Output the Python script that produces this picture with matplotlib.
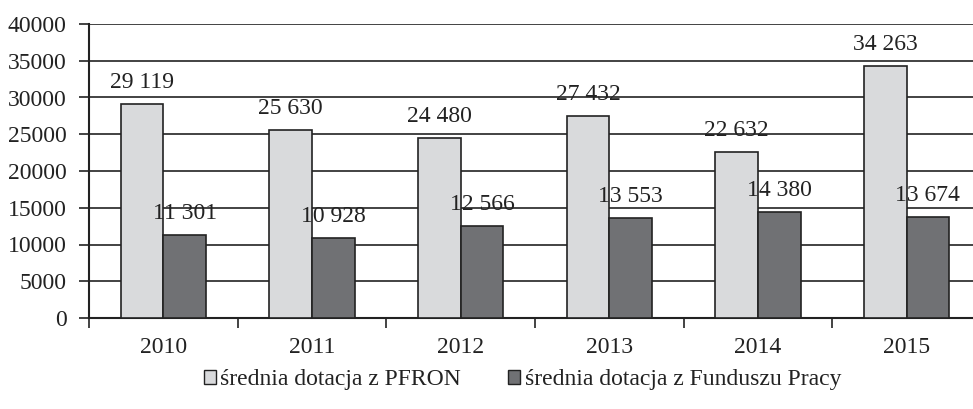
import matplotlib
matplotlib.use("Agg")
import matplotlib.pyplot as plt
import numpy as np

# Data
years = ["2010", "2011", "2012", "2013", "2014", "2015"]
pfron = [29119, 25630, 24480, 27432, 22632, 34263]
fp = [11301, 10928, 12566, 13553, 14380, 13674]
series_names = ["średnia dotacja z PFRON", "średnia dotacja z Funduszu Pracy"]

plt.rcParams["font.family"] = ["Liberation Serif", "DejaVu Serif"]
plt.rcParams["text.color"] = "#222222"
plt.rcParams["xtick.labelcolor"] = "#222222"
plt.rcParams["ytick.labelcolor"] = "#222222"
fs = 17

fig = plt.figure(figsize=(9.73, 4.09), dpi=100)
ax = fig.add_axes([89 / 973, 1 - 318 / 409, 892 / 973, 294 / 409])

x = np.arange(len(years))
w = 0.286
ax.bar(x - w / 2, pfron, w, color="#d9dadc", edgecolor="#222222", linewidth=1.2, zorder=3, label=series_names[0])
ax.bar(x + w / 2, fp, w, color="#707174", edgecolor="#222222", linewidth=1.2, zorder=3, label=series_names[1])

def fmt(v):
    return f"{v:,}".replace(",", " ")

for xi, v in zip(x, pfron):
    ax.annotate(fmt(v), (xi - w / 2, v), xytext=(0, 8), textcoords="offset points",
                ha="center", va="bottom", fontsize=fs, zorder=5)
for xi, v in zip(x, fp):
    ax.annotate(fmt(v), (xi + w / 2, v), xytext=(0, 8), textcoords="offset points",
                ha="center", va="bottom", fontsize=fs, zorder=5)

ax.set_xlim(-0.5, len(years) - 0.5)
ax.set_ylim(0, 40000)
ax.set_yticks(np.arange(0, 40001, 5000))
ax.yaxis.grid(True, color="#222222", linewidth=1.2, zorder=0)
ax.set_axisbelow(True)

ax.set_xticks(x)
ax.set_xticklabels(years)
ax.set_xticks(np.arange(-0.5, len(years)), minor=True)
ax.tick_params(axis="x", which="major", length=0, pad=14, labelsize=fs)
ax.tick_params(axis="x", which="minor", length=7, width=1.2, direction="out", color="#222222")
ax.tick_params(axis="y", length=7, width=1.2, direction="out", color="#222222", labelsize=fs, pad=9)

for s in ["top", "right"]:
    ax.spines[s].set_visible(False)
for s in ["left", "bottom"]:
    ax.spines[s].set_linewidth(1.5)
    ax.spines[s].set_color("#222222")

leg = fig.legend(loc="center", bbox_to_anchor=(0.537, 1 - 380 / 409), ncol=2, frameon=False,
                 fontsize=fs, handlelength=0.5, handleheight=0.5, handletextpad=0.2,
                 columnspacing=2.0)
for h in leg.legend_handles:
    h.set_linewidth(1.0)

fig.savefig("out.png", dpi=100)
